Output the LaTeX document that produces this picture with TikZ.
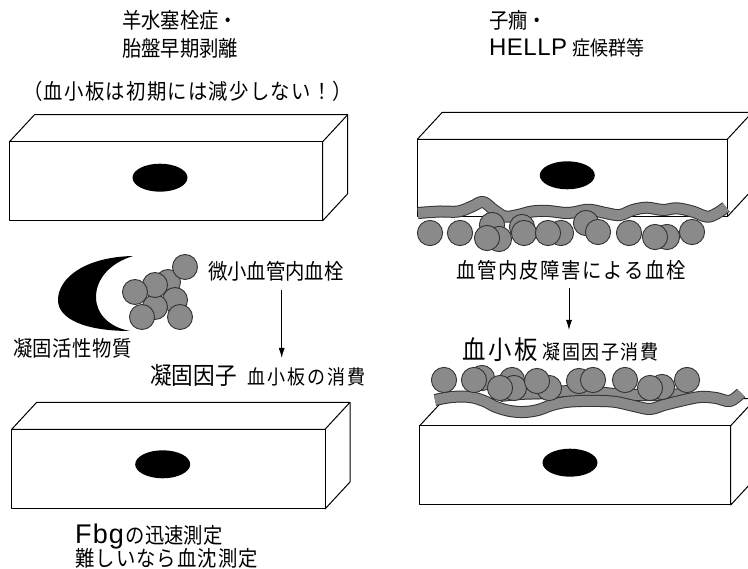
\documentclass[tikz,border=0pt]{standalone}
\usepackage{fontspec}
\setmainfont{Noto Sans CJK JP}[FakeStretch=0.9]
\newfontfamily\latinsf{Liberation Sans}
\usetikzlibrary{arrows.meta,calc}
\definecolor{cellgray}{HTML}{8A8A8A}
\definecolor{edgegray}{HTML}{333333}

% endothelial cell drawn as a block: front face corners (x1,y1) and (x2,y2)
\newcommand\cellblock[4]{%
  \draw[wall] (#1,#2) -- ++(25,-27) -- ($(#3,#2)+(25,-27)$) -- ($(#3,#4)+(25,-27)$) -- (#3,#4) -- (#3,#2) -- cycle;
  \draw[wall] (#3,#2) -- ++(25,-27);
  \draw[wall] (#1,#2) rectangle (#3,#4);
}

\tikzset{
  wall/.style={draw=black, line width=1pt, fill=white, line join=round},
  nucleus/.style={fill=black},
  plt/.style={draw=edgegray, line width=0.9pt, fill=cellgray},
  bandedge/.style={draw=edgegray, line width=12pt, line cap=butt, line join=round},
  bandfill/.style={draw=cellgray, line width=10pt, line cap=butt, line join=round},
  lbl/.style={inner sep=0pt, anchor=base west, font=\fontsize{21.5}{21.5}\selectfont},
  arr/.style={line width=0.9pt, -{Latex[length=10pt,width=6pt]}},
}

\begin{document}
\begin{tikzpicture}[x=1pt,y=-1pt]
\useasboundingbox (0,0) rectangle (748,569);
\clip (0,0) rectangle (748,569);

% ---------- left column ----------
\node[lbl] (titleL1) at (122,28.2) {羊水塞栓症・};
\node[lbl] (titleL2) at (122,56.2) {胎盤早期剥離};
\node[lbl] (noteL) at (23,99.9) {\addfontfeatures{LetterSpace=6}（血小板は初期には減少しない！）};

\cellblock{9.5}{141.7}{322.7}{220.7}
\fill[nucleus] (160,177.7) ellipse [x radius=27.5pt, y radius=14pt];

% procoagulant material (crescent) with aggregated platelets
\fill (133,256) .. controls (85,257) and (58,278) .. (58,300)
  .. controls (58,319) and (85,331) .. (130,331)
  .. controls (108,327) and (96,313) .. (96,297)
  .. controls (96,279) and (110,263) .. (133,256) -- cycle;
\foreach \x/\y in {168/282,175/300,155/307,155/285,135/292,142/317,180/317,185/267}
  \path[plt] (\x,\y) circle [radius=12.5pt];

\node[lbl] (thrombL) at (208,279.9) {微小血管内血栓};
\node[lbl] (actL) at (13,356.2) {\addfontfeatures{LetterSpace=2}凝固活性物質};
\node[lbl] (consL) at (150,384.1) {{\fontsize{24}{24}\selectfont 凝固因子}\hspace{11pt}{\fontsize{20}{20}\selectfont\addfontfeatures{LetterSpace=10}血小板の消費}};

\coordinate (arrLa) at (281.7,290);
\coordinate (arrLb) at (281.7,358);
\draw[arr] (arrLa) -- (arrLb);

\cellblock{11.7}{429.3}{325}{509}
\fill[nucleus] (162.7,464.3) ellipse [x radius=27.5pt, y radius=14pt];

\node[lbl] (fbg) at (75,543.2) {{\latinsf\fontsize{27}{27}\selectfont\addfontfeatures{LetterSpace=4}Fbg}\hspace{2pt}の迅速測定};
\node[lbl] (esr) at (75,566.5) {\addfontfeatures{LetterSpace=5}難しいなら血沈測定};

% ---------- right column ----------
\node[lbl] (titleR1) at (489,28.2) {子癇・};
\node[lbl] (titleR2) at (489,55.5) {{\latinsf\fontsize{24}{24}\selectfont\addfontfeatures{LetterSpace=2}HELLP}\hspace{5pt}{\fontsize{20}{20}\selectfont 症候群等}};

\cellblock{417.3}{139.3}{727.3}{216.7}
\fill[nucleus] (567.3,175.3) ellipse [x radius=27.5pt, y radius=14pt];

% fibrin strand under the damaged endothelium
\def\fibrinA{(418,213) (440,211.5) (458,211.5) (472,206.5) (483,202) (494,210) (505,216.5) (518,215) (532,211.5) (548,211) (568,213) (585,210) (592,210) (607,213.3) (620,215) (633,210) (647,207.7) (663,210) (677,208.3) (693,211.7) (707,216.7) (717,213.3) (726,207)}
\draw[bandedge] plot[smooth, tension=0.6] coordinates {\fibrinA};
\draw[bandfill] plot[smooth, tension=0.6] coordinates {\fibrinA};

\foreach \x/\y in {492/225,522/227,586/223,499/239,561/233,667/237,430/233,460/233,487/238,524/233,548/233,598/232,629/233,655/237,692/232}
  \path[plt] (\x,\y) circle [radius=12.6pt];

\node[lbl] (thrombR) at (456,278.2) {\addfontfeatures{LetterSpace=8}血管内皮障害による血栓};

\coordinate (arrRa) at (569,288);
\coordinate (arrRb) at (569,330);
\draw[arr] (arrRa) -- (arrRb);

\node[lbl] (consR) at (462,359.9) {{\fontsize{26}{26}\selectfont\addfontfeatures{LetterSpace=10}血小板}\hspace{5pt}{\fontsize{20}{20}\selectfont\addfontfeatures{LetterSpace=8}凝固因子消費}};

\cellblock{419.7}{425.7}{730.7}{505}
\fill[nucleus] (570,462.7) ellipse [x radius=27.5pt, y radius=14pt];

% fibrin strands on top of the endothelium
\def\fibrinB{(500,396) (520,394) (545,393) (570,391) (595,392) (615,394) (640,395) (660,395) (690,394)}
\def\fibrinC{(435,400) (452,397) (470,397) (484,401) (496,407) (510,411) (524,412) (538,410) (552,405) (566,402) (582,401) (600,401) (616,402) (634,406) (650,409) (664,405) (680,401) (700,397) (716,398) (730,401) (741,393)}
\draw[bandedge] plot[smooth, tension=0.6] coordinates {\fibrinB};
\draw[bandfill] plot[smooth, tension=0.6] coordinates {\fibrinB};
\draw[bandedge] plot[smooth, tension=0.6] coordinates {\fibrinC};
\draw[bandfill] plot[smooth, tension=0.6] coordinates {\fibrinC};

\foreach \x/\y in {482/378,512/380,514/388,549/388,579/381,662/387,444/380,474/380,500/388,537/381,593/380,625/380,650/388,687/380}
  \path[plt] (\x,\y) circle [radius=12.6pt];

\end{tikzpicture}
\end{document}
